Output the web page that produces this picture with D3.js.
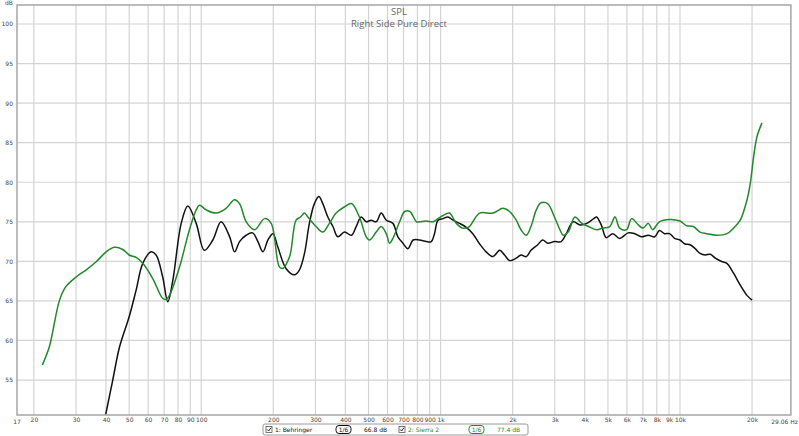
<!DOCTYPE html>
<html><head><meta charset="utf-8">
<script src="https://cdn.jsdelivr.net/npm/d3@7"></script>
<style>
html,body{margin:0;padding:0;background:#fff;}
svg{display:block;}
text{font-family:"DejaVu Sans",Verdana,sans-serif;}
</style></head>
<body>
<script>
// ---- data ----
const behringerFreq = [39.5,40,42.7,45.6,50,53.5,57,61.8,64.8,69,72.5,76.1,82.5,87.9,95.3,103,111.8,121,131.5,137.8,144.6,154,164,172.5,181,190,199.3,209,226,245,257,270,283,297,310,322,338,355,372,397,424,444,466,489,513,538,565,593,632,663,696,730,768,816,871,914,943,975,1024,1073,1127,1200,1280,1363,1456,1550,1655,1765,1850,1940,2070,2166,2280,2385,2545,2670,2800,2990,3190,3350,3580,3825,4080,4360,4480,4690,4920,5240,5600,6070,6470,6900,7370,7850,8200,8620,9050,9500,10000,10490,11020,11570,12130,12750,13380,14050,15000,15700,16740,17850,19040,20000];
const behringerDb = [50.0,50.8,55,59.2,63,66.4,69.75,71.2,70.8,68.05,64.9,67.6,74.8,77,74.8,71.4,72.7,75,73.1,71.2,72.5,73.3,73.6,72.5,71.2,72.7,73.5,71.8,69.1,68.3,68.9,71,74.8,77.3,78.2,77.3,75.6,74.4,73.1,73.7,73.3,74.4,75.6,75,75.2,75,76.1,75.2,74.8,73.1,72.3,71.6,72.7,72.7,72.5,72.5,73.5,75.2,75.4,75.6,75.2,74.8,74.3,73.5,72.2,71.2,70.6,71.4,70.8,70.1,70.4,70.8,70.6,71.4,72.1,72.7,72.3,72.5,72.5,73.5,75,74.6,74.8,75.4,75.6,74.6,73,73.5,72.9,73.6,73.5,73.1,73.3,73.1,73.9,73.5,73.5,72.9,72.7,72.2,72.1,71.6,71,70.8,70.9,70.4,69.95,69.75,68.5,67,65.7,65.1];

const sierraFreq = [21.7,23.2,25.6,27.2,30.1,33,36.4,40.1,43.4,47,50,53.5,57,62.8,69.1,71.4,73.7,81.2,89.3,95.3,98.4,104.9,115.5,127,137.8,144.6,154.2,167,184,196,212,219,234,249,260,270,279,302,322,343,366,397,424,458,489,505,538,565,593,612,632,674,708,744,793,816,871,929,975,1024,1088,1163,1236,1319,1363,1456,1655,1820,1940,2070,2166,2280,2385,2510,2625,2800,2990,3150,3253,3410,3640,3890,4150,4480,4760,5090,5350,5600,5980,6280,6700,7010,7370,7690,8200,9050,10000,10660,11370,12130,12930,14240,15700,16740,17850,19040,19670,20300,20970,22000];
const sierraDb = [56.9,59.2,65.1,66.8,68.05,68.9,69.95,71.2,71.77,71.5,70.8,70.5,69.75,67.8,65.3,65.2,65.7,69.3,74,76.5,77.1,76.5,76.1,76.7,77.8,77.3,75,74.0,75.4,74.8,69.3,69.1,70.6,75.2,75.6,76.1,75.6,74.4,73.7,74.8,76.1,76.9,77.3,75.6,73.1,72.7,73.7,74.4,73.5,72.3,72.9,75,76.3,76.3,75,75,75.1,75,75.4,75.8,76.1,74.8,74.2,74.4,75,76.1,76.1,76.7,76.3,75.2,74.0,73.3,74.4,76.5,77.4,77.3,75.6,74,73.3,73.7,75.6,74.8,74.4,74,74.2,74.4,75.6,74.2,74,75.4,74.6,74.2,74.8,74.0,75.0,75.3,75.1,74.5,74.4,73.7,73.5,73.3,73.5,74.2,75.2,77.75,79.9,83.2,85.75,87.5];

const xTickValues = [20,30,40,50,60,70,80,90,100,200,300,400,500,600,700,800,900,1000,2000,3000,4000,5000,6000,7000,8000,9000,10000,20000];
const xTickLabels = ["20","30","40","50","60","70","80","90","100","200","300","400","500","600","700","800","900","1k","2k","3k","4k","5k","6k","7k","8k","9k","10k","20k"];
const yTickValues = [55,60,65,70,75,80,85,90,95,100];
const seriesNames = ["1: Behringer","2: Sierra 2"];
const seriesLevels = ["66.8 dB","77.4 dB"];
const smoothing = ["1/6","1/6"];
const titleLines = ["SPL","Right Side Pure Direct"];

// ---- layout ----
const W = 799, H = 436;
const L = 17, R = 790.9, T = 5, B = 415;
const fMin = 17, fMax = 29060, dbMin = 50.58, dbMax = 102.4;
const colors = ["#111111","#22882a"];

const svg = d3.select("body").append("svg").attr("width",W).attr("height",H);
const x = d3.scaleLog().domain([fMin,fMax]).range([L,R]);
const y = d3.scaleLinear().domain([dbMin,dbMax]).range([B,T]);

// grid
const grid = svg.append("g");
grid.selectAll("line.v").data(xTickValues).join("line")
  .attr("x1",d=>x(d)).attr("x2",d=>x(d)).attr("y1",T).attr("y2",B)
  .attr("stroke","#d4d4d4").attr("stroke-width",1.2);
grid.selectAll("line.h").data(yTickValues).join("line")
  .attr("x1",L).attr("x2",R).attr("y1",d=>y(d)).attr("y2",d=>y(d))
  .attr("stroke","#d4d4d4").attr("stroke-width",1.2);

// title
svg.selectAll("text.title").data(titleLines).join("text")
  .attr("x",399).attr("y",(d,i)=>15+i*12)
  .attr("text-anchor","middle").style("fill","#666")
  .style("font-family","'Open Sans','Noto Sans',sans-serif").style("font-size","9.5px")
  .text(d=>d);

// clip
svg.append("clipPath").attr("id","clip").append("rect")
  .attr("x",L).attr("y",T).attr("width",R-L).attr("height",B-T);

const line = d3.line().x(d=>x(d[0])).y(d=>y(d[1])).curve(d3.curveCatmullRom.alpha(0.5));
const series = [
  d3.zip(behringerFreq, behringerDb),
  d3.zip(sierraFreq, sierraDb)
];
svg.append("g").attr("clip-path","url(#clip)")
  .selectAll("path").data(series).join("path")
  .attr("d",line).attr("fill","none")
  .attr("stroke",(d,i)=>colors[i]).attr("stroke-width",1.5);

// border
svg.append("rect").attr("x",L).attr("y",T).attr("width",R-L).attr("height",B-T)
  .attr("fill","none").attr("stroke","#a6a6a6").attr("stroke-width",1.5);

// axes labels (using d3 axes, hiding lines)
const xAxis = d3.axisBottom(x).tickValues(xTickValues)
  .tickFormat((d,i)=>xTickLabels[i]).tickSize(0).tickPadding(3);
const gx = svg.append("g").attr("transform",`translate(0,${B})`).call(xAxis);
gx.select(".domain").remove();
gx.selectAll("text").style("fill","#444").style("font-size","6px").style("font-family","'DejaVu Sans',sans-serif");
svg.append("text").attr("x",L).attr("y",B+9).attr("text-anchor","middle")
  .style("fill","#444").style("font-size","6px").text(fMin);
svg.append("text").attr("x",798).attr("y",B+9).attr("text-anchor","end")
  .style("fill","#444").style("font-size","6px").text("29.06 Hz");

const yAxis = d3.axisLeft(y).tickValues(yTickValues).tickSize(0).tickPadding(4);
const gy = svg.append("g").attr("transform",`translate(${L},0)`).call(yAxis);
gy.select(".domain").remove();
gy.selectAll("text").style("fill","#444").style("font-size","6px").style("font-family","'DejaVu Sans',sans-serif");
svg.append("text").attr("x",9).attr("y",5).attr("text-anchor","middle")
  .style("fill","#444").style("font-size","6px").text("dB");

// legend
const lg = svg.append("g");
lg.append("rect").attr("x",263).attr("y",424).attr("width",265).attr("height",11)
  .attr("rx",2).attr("fill","#fff").attr("stroke","#9a9a9a").attr("stroke-width",1);
const items = [0,1];
const offs = [0,133];
items.forEach(i=>{
  const ox = 266 + offs[i];
  const g = lg.append("g");
  g.append("rect").attr("x",ox).attr("y",426.5).attr("width",6).attr("height",6)
    .attr("fill","#fff").attr("stroke","#555").attr("stroke-width",0.8);
  g.append("path").attr("d",`M${ox+1.2},${429.5} L${ox+2.6},${431} L${ox+5},${427.6}`)
    .attr("fill","none").attr("stroke","#222").attr("stroke-width",1);
  g.append("text").attr("x",ox+9).attr("y",432).style("fill",colors[i])
    .style("font-size","6px").text(seriesNames[i]);
  g.append("rect").attr("x",ox+70).attr("y",425.5).attr("width",15).attr("height",8)
    .attr("rx",3).attr("fill","#fff").attr("stroke",colors[i]).attr("stroke-width",1);
  g.append("text").attr("x",ox+77.5).attr("y",432).attr("text-anchor","middle").style("fill",colors[i])
    .style("font-size","6px").text(smoothing[i]);
  g.append("text").attr("x",ox+98).attr("y",432).style("fill",colors[i])
    .style("font-size","6px").text(seriesLevels[i]);
});
</script>
</body></html>
